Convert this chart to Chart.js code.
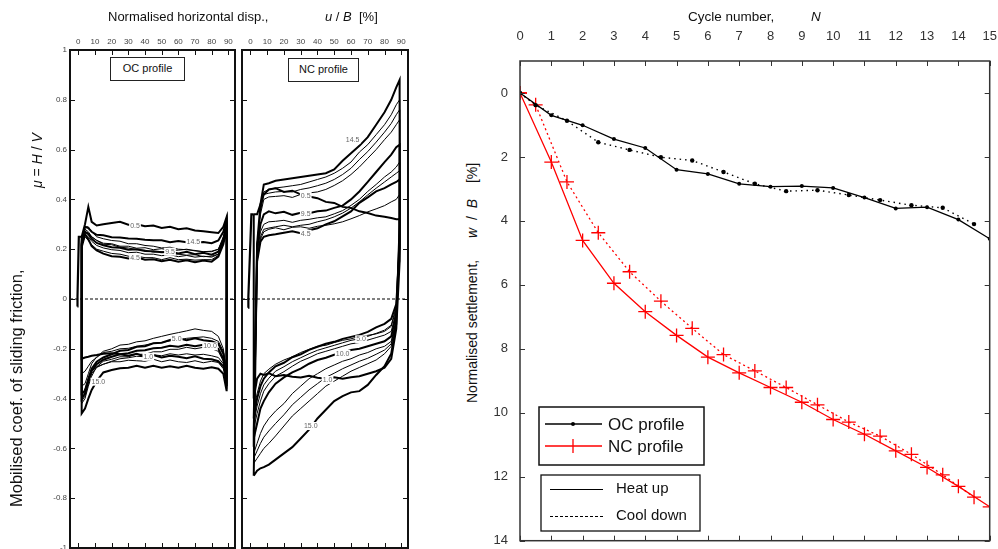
<!DOCTYPE html>
<html><head><meta charset="utf-8">
<script src="https://cdn.jsdelivr.net/npm/chart.js@4.4.1/dist/chart.umd.min.js"></script>
<style>
html,body{margin:0;padding:0;background:#fff;}
body{width:998px;height:549px;position:relative;overflow:hidden;font-family:"Liberation Sans",Arial,sans-serif;color:#111;}
canvas{position:absolute;top:0;}
.t{position:absolute;white-space:nowrap;font-size:13px;line-height:16px;}
.rot{transform-origin:0 0;transform:rotate(-90deg);}
.box{position:absolute;border:1px solid #222;font-size:11px;text-align:center;line-height:21px;background:#fff;}
i{font-style:italic;}
</style></head><body>
<canvas id="oc" style="left:0" width="240" height="549"></canvas>
<canvas id="nc" style="left:236px" width="176" height="549"></canvas>
<canvas id="st" style="left:480px" width="518" height="549"></canvas>

<div class="t" style="left:108px;top:9px">Normalised horizontal disp.,</div>
<div class="t" style="left:325px;top:9px"><i>u</i> / <i>B</i>&nbsp; [%]</div>
<div class="t" style="left:688px;top:9px;font-size:13.5px">Cycle number,</div>
<div class="t" style="left:811px;top:9px;font-size:13.5px"><i>N</i></div>
<div class="t rot" style="left:8px;top:507px;font-size:16.5px">Mobilised coef. of sliding friction,</div>
<div class="t rot" style="left:29px;top:188px;font-size:14px"><i>μ</i> = <i>H</i> / <i>V</i></div>
<div class="t rot" style="left:464px;top:403px;font-size:14px">Normalised settlement,</div>
<div class="t rot" style="left:464px;top:238px;font-size:14px;word-spacing:4px"><i>w</i> / <i>B</i> &nbsp;[%]</div>
<div class="box" style="left:110px;top:57px;width:73px;height:22px">OC profile</div>
<div class="box" style="left:288px;top:58px;width:69px;height:22px">NC profile</div>

<script>
// ---------- Left panels: hysteresis loops ----------
const uTicks = [0, 10, 20, 30, 40, 50, 60, 70, 80, 90];
const muTicks = [-1, -0.8, -0.6, -0.4, -0.2, 0, 0.2, 0.4, 0.6, 0.8, 1];
// displacement u/B [%] at which each branch was read
const uGrid = [2, 4, 6, 8, 11, 15, 20, 25, 30, 35, 40, 45, 50, 55, 60, 65, 70, 75, 80, 84, 87, 89];

// OC profile: upper (moving right) and lower (moving back) branches
const oc1Up  = [0.25, 0.30, 0.37, 0.31, 0.295, 0.30, 0.305, 0.31, 0.298, 0.30, 0.292, 0.295, 0.285, 0.29, 0.28, 0.284, 0.275, 0.272, 0.268, 0.265, 0.29, 0.33];
const oc1Lo  = [-0.24, -0.235, -0.232, -0.228, -0.225, -0.22, -0.218, -0.222, -0.228, -0.22, -0.232, -0.225, -0.235, -0.228, -0.232, -0.238, -0.23, -0.24, -0.242, -0.25, -0.27, -0.30];
const oc2Up  = [0.23, 0.29, 0.29, 0.27, 0.25, 0.242, 0.235, 0.232, 0.222, 0.222, 0.215, 0.212, 0.205, 0.208, 0.2, 0.198, 0.195, 0.19, 0.19, 0.2, 0.24, 0.3];
const oc2Lo  = [-0.3, -0.29, -0.27, -0.25, -0.235, -0.215, -0.21, -0.2, -0.198, -0.19, -0.185, -0.178, -0.175, -0.168, -0.165, -0.158, -0.155, -0.152, -0.158, -0.17, -0.21, -0.29];
const oc3Up  = [0.22, 0.28, 0.27, 0.25, 0.235, 0.22, 0.218, 0.208, 0.205, 0.198, 0.196, 0.188, 0.19, 0.182, 0.18, 0.176, 0.178, 0.17, 0.172, 0.18, 0.23, 0.29];
const oc3Lo  = [-0.35, -0.34, -0.30, -0.26, -0.232, -0.21, -0.2, -0.185, -0.182, -0.172, -0.168, -0.158, -0.15, -0.142, -0.135, -0.128, -0.12, -0.126, -0.13, -0.15, -0.2, -0.3];
const oc5Up  = [0.22, 0.26, 0.24, 0.212, 0.195, 0.182, 0.172, 0.17, 0.163, 0.168, 0.158, 0.16, 0.152, 0.158, 0.15, 0.156, 0.148, 0.155, 0.15, 0.17, 0.22, 0.28];
const oc5Lo  = [-0.38, -0.37, -0.32, -0.28, -0.252, -0.235, -0.222, -0.208, -0.205, -0.192, -0.19, -0.178, -0.176, -0.165, -0.158, -0.166, -0.158, -0.166, -0.17, -0.18, -0.22, -0.32];
const oc7Up  = [0.2, 0.25, 0.235, 0.218, 0.2, 0.192, 0.183, 0.18, 0.172, 0.172, 0.166, 0.166, 0.158, 0.166, 0.158, 0.16, 0.156, 0.158, 0.158, 0.175, 0.23, 0.27];
const oc7Lo  = [-0.39, -0.36, -0.32, -0.29, -0.272, -0.262, -0.252, -0.252, -0.246, -0.248, -0.25, -0.242, -0.252, -0.245, -0.252, -0.255, -0.248, -0.256, -0.25, -0.255, -0.28, -0.34];
const oc9Up  = [0.21, 0.26, 0.25, 0.232, 0.215, 0.205, 0.198, 0.195, 0.186, 0.188, 0.18, 0.18, 0.174, 0.178, 0.17, 0.175, 0.168, 0.172, 0.168, 0.18, 0.23, 0.29];
const oc9Lo  = [-0.41, -0.39, -0.34, -0.3, -0.275, -0.262, -0.25, -0.24, -0.236, -0.23, -0.232, -0.224, -0.228, -0.22, -0.225, -0.22, -0.225, -0.222, -0.228, -0.235, -0.26, -0.35];
const oc10Up = [0.22, 0.27, 0.26, 0.242, 0.225, 0.216, 0.208, 0.206, 0.198, 0.2, 0.193, 0.192, 0.188, 0.19, 0.183, 0.19, 0.18, 0.186, 0.178, 0.19, 0.24, 0.30];
const oc10Lo = [-0.40, -0.38, -0.33, -0.29, -0.262, -0.244, -0.232, -0.222, -0.218, -0.208, -0.206, -0.198, -0.196, -0.188, -0.192, -0.184, -0.19, -0.184, -0.19, -0.2, -0.24, -0.35];
const oc12Up = [0.21, 0.27, 0.265, 0.25, 0.236, 0.224, 0.222, 0.212, 0.212, 0.204, 0.206, 0.198, 0.202, 0.196, 0.196, 0.2, 0.193, 0.19, 0.192, 0.2, 0.25, 0.31];
const oc12Lo = [-0.42, -0.40, -0.35, -0.31, -0.272, -0.25, -0.242, -0.232, -0.232, -0.222, -0.222, -0.212, -0.212, -0.202, -0.202, -0.194, -0.2, -0.194, -0.2, -0.21, -0.25, -0.36];
const oc15Up = [0.23, 0.29, 0.285, 0.27, 0.258, 0.256, 0.248, 0.247, 0.243, 0.242, 0.238, 0.236, 0.236, 0.228, 0.233, 0.228, 0.226, 0.229, 0.224, 0.235, 0.27, 0.32];
const oc15Lo = [-0.46, -0.44, -0.40, -0.365, -0.33, -0.295, -0.285, -0.278, -0.276, -0.268, -0.276, -0.268, -0.276, -0.27, -0.276, -0.268, -0.276, -0.28, -0.274, -0.28, -0.30, -0.37];
const ocInitU  = [-0.6, -0.5, 0.3, 2];
const ocInitMu = [-0.03, 0.01, 0.25, 0.25];

// NC profile
const nc1Up  = [0.34, 0.34, 0.38, 0.42, 0.44, 0.445, 0.43, 0.435, 0.42, 0.412, 0.405, 0.39, 0.386, 0.37, 0.366, 0.352, 0.345, 0.335, 0.33, 0.325, 0.32, 0.32];
const nc1Lo  = [-0.40, -0.32, -0.30, -0.305, -0.298, -0.31, -0.305, -0.312, -0.315, -0.308, -0.316, -0.32, -0.314, -0.32, -0.314, -0.31, -0.30, -0.29, -0.276, -0.24, -0.12, 0.15];
const nc3Up  = [-0.45, 0.15, 0.24, 0.27, 0.28, 0.286, 0.278, 0.288, 0.29, 0.284, 0.292, 0.296, 0.302, 0.31, 0.322, 0.335, 0.35, 0.362, 0.375, 0.39, 0.40, 0.42];
const nc3Lo  = [-0.45, -0.38, -0.33, -0.30, -0.282, -0.262, -0.245, -0.232, -0.215, -0.202, -0.19, -0.186, -0.175, -0.166, -0.16, -0.15, -0.146, -0.14, -0.13, -0.11, -0.04, 0.15];
const nc5Up  = [-0.48, 0.15, 0.23, 0.25, 0.256, 0.26, 0.266, 0.272, 0.264, 0.276, 0.284, 0.30, 0.312, 0.332, 0.352, 0.386, 0.408, 0.432, 0.445, 0.46, 0.47, 0.48];
const nc5Lo  = [-0.48, -0.40, -0.35, -0.32, -0.295, -0.27, -0.256, -0.234, -0.222, -0.204, -0.192, -0.18, -0.172, -0.16, -0.152, -0.144, -0.132, -0.114, -0.10, -0.08, -0.02, 0.2];
const nc6Up  = [-0.5, 0.16, 0.25, 0.28, 0.285, 0.29, 0.296, 0.29, 0.296, 0.3, 0.31, 0.318, 0.33, 0.345, 0.365, 0.39, 0.418, 0.445, 0.47, 0.49, 0.505, 0.515];
const nc6Lo  = [-0.5, -0.43, -0.38, -0.345, -0.318, -0.29, -0.272, -0.252, -0.236, -0.22, -0.206, -0.196, -0.186, -0.176, -0.166, -0.16, -0.15, -0.138, -0.125, -0.105, -0.03, 0.2];
const nc8Up  = [-0.5, 0.18, 0.27, 0.30, 0.31, 0.312, 0.316, 0.308, 0.316, 0.32, 0.326, 0.33, 0.342, 0.355, 0.376, 0.40, 0.432, 0.46, 0.49, 0.51, 0.53, 0.55];
const nc8Lo  = [-0.52, -0.46, -0.41, -0.37, -0.34, -0.31, -0.292, -0.27, -0.25, -0.236, -0.22, -0.21, -0.2, -0.19, -0.18, -0.175, -0.165, -0.155, -0.145, -0.13, -0.05, 0.2];
const nc10Up = [-0.53, 0.2, 0.3, 0.34, 0.352, 0.344, 0.35, 0.338, 0.346, 0.344, 0.352, 0.355, 0.366, 0.375, 0.40, 0.432, 0.47, 0.51, 0.55, 0.58, 0.61, 0.62];
const nc10Lo = [-0.56, -0.50, -0.44, -0.41, -0.375, -0.34, -0.315, -0.295, -0.28, -0.26, -0.245, -0.236, -0.224, -0.216, -0.205, -0.2, -0.19, -0.18, -0.17, -0.15, -0.06, 0.25];
const nc12Up = [-0.6, 0.22, 0.34, 0.40, 0.41, 0.412, 0.415, 0.408, 0.42, 0.426, 0.43, 0.44, 0.456, 0.475, 0.50, 0.53, 0.565, 0.60, 0.64, 0.67, 0.70, 0.72];
const nc12Lo = [-0.62, -0.58, -0.54, -0.51, -0.48, -0.45, -0.42, -0.38, -0.35, -0.32, -0.30, -0.28, -0.265, -0.25, -0.24, -0.225, -0.215, -0.2, -0.19, -0.17, -0.08, 0.25];
const nc13Up = [-0.62, 0.22, 0.35, 0.42, 0.425, 0.43, 0.432, 0.43, 0.44, 0.446, 0.455, 0.465, 0.48, 0.5, 0.525, 0.56, 0.592, 0.63, 0.67, 0.705, 0.74, 0.76];
const nc13Lo = [-0.64, -0.61, -0.58, -0.555, -0.53, -0.5, -0.465, -0.425, -0.395, -0.365, -0.34, -0.315, -0.298, -0.28, -0.265, -0.25, -0.238, -0.222, -0.205, -0.18, -0.085, 0.28];
const nc14Up = [-0.64, 0.22, 0.36, 0.43, 0.44, 0.446, 0.45, 0.455, 0.46, 0.47, 0.48, 0.49, 0.505, 0.525, 0.55, 0.59, 0.62, 0.66, 0.70, 0.74, 0.78, 0.80];
const nc14Lo = [-0.66, -0.64, -0.62, -0.60, -0.58, -0.55, -0.51, -0.47, -0.44, -0.41, -0.38, -0.35, -0.33, -0.31, -0.29, -0.275, -0.26, -0.245, -0.22, -0.19, -0.09, 0.3];
const nc15Up = [-0.71, 0.22, 0.38, 0.46, 0.465, 0.475, 0.48, 0.485, 0.49, 0.495, 0.50, 0.505, 0.52, 0.555, 0.585, 0.615, 0.65, 0.70, 0.75, 0.80, 0.85, 0.88];
const nc15Lo = [-0.71, -0.69, -0.68, -0.675, -0.665, -0.645, -0.62, -0.595, -0.56, -0.525, -0.48, -0.445, -0.41, -0.39, -0.375, -0.37, -0.345, -0.305, -0.27, -0.22, -0.1, 0.3];
const ncInitU  = [-1.4, -1.2, 0.6, 2];
const ncInitMu = [-0.035, 0.01, 0.34, 0.34];

// half-cycle labels [text, u, mu]
const ocLabels = [["0.5", 34, 0.293], ["14.5", 69, 0.23], ["9.5", 55, 0.19], ["4.5", 34, 0.166],
                  ["5.0", 59, -0.162], ["10.0", 79, -0.19], ["1.0", 42, -0.232], ["15.0", 12, -0.332]];
const ncLabels = [["14.5", 61, 0.639], ["0.5", 33, 0.414], ["9.5", 33, 0.343], ["4.5", 33, 0.262],
                  ["5.0", 66, -0.162], ["10.0", 55, -0.22], ["1.0", 46, -0.325], ["15.0", 36, -0.51]];

// ---------- Right panel: settlement ----------
const cycTicks = [0,1,2,3,4,5,6,7,8,9,10,11,12,13,14,15];
const wTicks = [0, 2, 4, 6, 8, 10, 12, 14];
const nHeat = [0,1,2,3,4,5,6,7,8,9,10,11,12,13,14,15];
const nCool = [0,0.5,1.5,2.5,3.5,4.5,5.5,6.5,7.5,8.5,9.5,10.5,11.5,12.5,13.5,14.5];
const ocHeat = [0, 0.70, 1.01, 1.44, 1.72, 2.40, 2.53, 2.84, 2.93, 2.91, 2.97, 3.27, 3.61, 3.57, 3.96, 4.56];
const ocCool = [0, 0.38, 0.87, 1.54, 1.78, 2.01, 2.11, 2.47, 2.84, 3.07, 3.04, 3.19, 3.35, 3.51, 3.59, 4.10];
const ncHeat = [0, 2.16, 4.61, 5.95, 6.84, 7.58, 8.26, 8.75, 9.21, 9.67, 10.21, 10.67, 11.19, 11.71, 12.30, 12.94];
const ncCool = [0, 0.37, 2.78, 4.37, 5.59, 6.51, 7.36, 8.18, 8.69, 9.21, 9.75, 10.29, 10.73, 11.30, 11.94, 12.64];

// ---------- helpers ----------
const FONT = '"Liberation Sans", Arial, sans-serif';
function loopPts(up, lo) {
  const pts = uGrid.map((u, i) => ({x: u, y: up[i]}));
  for (let i = uGrid.length - 1; i >= 0; i--) pts.push({x: uGrid[i], y: lo[i]});
  pts.push({x: uGrid[0], y: up[0]});
  return pts;
}
function loopDs(up, lo, w) {
  return {data: loopPts(up, lo), borderColor: '#000', borderWidth: w, pointRadius: 0, tension: 0, fill: false};
}
function zip(xs, ys) { return xs.map((v, i) => ({x: v, y: ys[i]})); }
function setTicks(arr) { return s => { s.ticks = arr.map(v => ({value: v})); }; }
function fix(prop, val) { return s => { s[prop] = val; s.paddingLeft = 0; s.paddingRight = 0; s.paddingTop = 0; s.paddingBottom = 0; }; }

const frameTicks = {
  id: 'frameTicks',
  afterDraw(chart, args, o) {
    const {ctx, chartArea: a, scales: {x, y}} = chart;
    ctx.save();
    ctx.strokeStyle = o.color; ctx.lineWidth = o.tickWidth;
    ctx.beginPath();
    o.xTicks.forEach(v => { const p = Math.round(x.getPixelForValue(v)) + 0.5;
      ctx.moveTo(p, a.top); ctx.lineTo(p, a.top + o.len);
      ctx.moveTo(p, a.bottom); ctx.lineTo(p, a.bottom - o.len); });
    o.yTicks.forEach(v => { const p = Math.round(y.getPixelForValue(v)) + 0.5;
      ctx.moveTo(a.left, p); ctx.lineTo(a.left + o.len, p);
      ctx.moveTo(a.right, p); ctx.lineTo(a.right - o.len, p); });
    ctx.stroke();
    ctx.lineWidth = o.frameWidth;
    ctx.strokeRect(a.left, a.top, a.right - a.left, a.bottom - a.top);
    ctx.restore();
  }
};
const loopLabels = {
  id: 'loopLabels',
  afterDatasetsDraw(chart, args, o) {
    const {ctx, scales: {x, y}} = chart;
    ctx.save();
    ctx.font = '7px ' + FONT; ctx.textAlign = 'center'; ctx.textBaseline = 'middle';
    o.items.forEach(([t, u, m]) => {
      const px = x.getPixelForValue(u), py = y.getPixelForValue(m);
      const w = ctx.measureText(t).width + 2;
      ctx.fillStyle = '#fff'; ctx.fillRect(px - w / 2, py - 4, w, 8);
      ctx.fillStyle = '#666'; ctx.fillText(t, px, py);
    });
    ctx.restore();
  }
};

function loopChart(id, loops, init, labels, showY, yWidth, padLeft, padRight) {
  const ds = loops.map(l => loopDs(l[0], l[1], l[2]));
  ds.push({data: init, borderColor: '#000', borderWidth: 2.2, pointRadius: 0});
  ds.push({data: [{x: -5, y: 0}, {x: 94, y: 0}], borderColor: '#000', borderWidth: 1, borderDash: [3, 2], pointRadius: 0});
  return new Chart(document.getElementById(id), {
    type: 'scatter',
    data: {datasets: ds.map(d => Object.assign({showLine: true}, d))},
    options: {
      responsive: false, animation: false, devicePixelRatio: 1,
      layout: {padding: {left: padLeft, right: padRight, top: 0, bottom: 1}},
      plugins: {legend: {display: false}, tooltip: {enabled: false},
        frameTicks: {xTicks: uTicks, yTicks: muTicks, len: 5, color: '#111', tickWidth: 1, frameWidth: 2},
        loopLabels: {items: labels}},
      scales: {
        x: {type: 'linear', position: 'top', min: -5, max: 94, afterBuildTicks: setTicks(uTicks), afterFit: fix('height', 50),
            grid: {display: false, drawTicks: false}, border: {display: false},
            ticks: {font: {size: 8, family: FONT}, color: '#444', padding: 3, maxRotation: 0, autoSkip: false}},
        y: {type: 'linear', display: showY, min: -1, max: 1, afterBuildTicks: setTicks(muTicks), afterFit: fix('width', yWidth),
            grid: {display: false, drawTicks: false}, border: {display: false},
            ticks: {font: {size: 8, family: FONT}, color: '#444', padding: 3, autoSkip: false,
                    callback: v => String(+(+v).toFixed(1))}}
      }
    },
    plugins: [frameTicks, loopLabels]
  });
}

loopChart('oc', [[oc2Up, oc2Lo, 1], [oc3Up, oc3Lo, 1], [oc7Up, oc7Lo, 1], [oc9Up, oc9Lo, 1], [oc12Up, oc12Lo, 1],
                 [oc1Up, oc1Lo, 2], [oc5Up, oc5Lo, 2], [oc10Up, oc10Lo, 2], [oc15Up, oc15Lo, 2]],
          zip(ocInitU, ocInitMu), ocLabels, true, 70, 0, 5);
loopChart('nc', [[nc3Up, nc3Lo, 1], [nc6Up, nc6Lo, 1], [nc8Up, nc8Lo, 1], [nc12Up, nc12Lo, 1], [nc13Up, nc13Lo, 1], [nc14Up, nc14Lo, 1],
                 [nc1Up, nc1Lo, 2], [nc5Up, nc5Lo, 2], [nc10Up, nc10Lo, 2], [nc15Up, nc15Lo, 2]],
          zip(ncInitU, ncInitMu), ncLabels, false, 0, 6, 4);

// ---------- settlement chart ----------
const legendBoxes = {
  id: 'legendBoxes',
  afterDraw(chart) {
    const ctx = chart.ctx, ox = -480;
    ctx.save();
    ctx.fillStyle = '#fff'; ctx.strokeStyle = '#111'; ctx.lineWidth = 1.5;
    // box 1
    ctx.fillRect(539 + ox, 407, 165, 58); ctx.strokeRect(539 + ox, 407, 165, 58);
    ctx.font = '17px ' + FONT; ctx.textBaseline = 'middle'; ctx.textAlign = 'left';
    ctx.lineWidth = 1.3;
    ctx.strokeStyle = '#000'; ctx.beginPath(); ctx.moveTo(545 + ox, 424); ctx.lineTo(602 + ox, 424); ctx.stroke();
    ctx.fillStyle = '#000'; ctx.beginPath(); ctx.arc(573 + ox, 424, 2, 0, Math.PI * 2); ctx.fill();
    ctx.strokeStyle = '#f00'; ctx.beginPath(); ctx.moveTo(545 + ox, 446); ctx.lineTo(602 + ox, 446);
    ctx.moveTo(566 + ox, 446); ctx.lineTo(580 + ox, 446); ctx.moveTo(573 + ox, 439); ctx.lineTo(573 + ox, 453); ctx.stroke();
    ctx.fillStyle = '#111'; ctx.fillText('OC profile', 608 + ox, 425); ctx.fillText('NC profile', 608 + ox, 447);
    // box 2
    ctx.strokeStyle = '#111'; ctx.lineWidth = 1.3; ctx.fillStyle = '#fff';
    ctx.fillRect(541 + ox, 475, 159, 56); ctx.strokeRect(541 + ox, 475, 159, 56);
    ctx.strokeStyle = '#000'; ctx.lineWidth = 1;
    ctx.beginPath(); ctx.moveTo(550 + ox, 489.5); ctx.lineTo(603 + ox, 489.5); ctx.stroke();
    ctx.setLineDash([3, 2]); ctx.beginPath(); ctx.moveTo(550 + ox, 516.5); ctx.lineTo(603 + ox, 516.5); ctx.stroke();
    ctx.setLineDash([]);
    ctx.font = '15px ' + FONT; ctx.fillStyle = '#111';
    ctx.fillText('Heat up', 616 + ox, 489); ctx.fillText('Cool down', 616 + ox, 516);
    ctx.restore();
  }
};

new Chart(document.getElementById('st'), {
  type: 'scatter',
  data: {datasets: [
    {data: zip(nCool, ocCool), showLine: true, borderColor: '#000', borderWidth: 1.4, borderDash: [1.5, 4],
     pointRadius: 2.2, pointBackgroundColor: '#000', pointBorderWidth: 0},
    {data: zip(nHeat, ocHeat), showLine: true, borderColor: '#000', borderWidth: 1.3,
     pointRadius: 2, pointBackgroundColor: '#000', pointBorderWidth: 0},
    {data: zip(nCool, ncCool), showLine: true, borderColor: '#f00', borderWidth: 1.3, borderDash: [2, 3],
     pointStyle: 'cross', pointRadius: 7, pointBorderColor: '#f00', pointBorderWidth: 1.3},
    {data: zip(nHeat, ncHeat), showLine: true, borderColor: '#f00', borderWidth: 1.3,
     pointStyle: 'cross', pointRadius: 7, pointBorderColor: '#f00', pointBorderWidth: 1.3}
  ]},
  options: {
    responsive: false, animation: false, devicePixelRatio: 1,
    layout: {padding: {left: 0, right: 5, top: 0, bottom: 2}},
    plugins: {legend: {display: false}, tooltip: {enabled: false},
      frameTicks: {xTicks: cycTicks, yTicks: wTicks, len: 5, color: '#333', tickWidth: 1, frameWidth: 1.5}},
    scales: {
      x: {type: 'linear', position: 'top', min: 0, max: 15, afterBuildTicks: setTicks(cycTicks), afterFit: fix('height', 61),
          grid: {display: false, drawTicks: false}, border: {display: false},
          ticks: {font: {size: 13, family: FONT}, color: '#333', padding: 17, maxRotation: 0, autoSkip: false}},
      y: {type: 'linear', reverse: true, min: -1, max: 14, afterBuildTicks: setTicks(wTicks), afterFit: fix('width', 40),
          grid: {display: false, drawTicks: false}, border: {display: false},
          ticks: {font: {size: 13, family: FONT}, color: '#333', padding: 12, autoSkip: false}}
    }
  },
  plugins: [frameTicks, legendBoxes]
});
</script>
</body></html>
